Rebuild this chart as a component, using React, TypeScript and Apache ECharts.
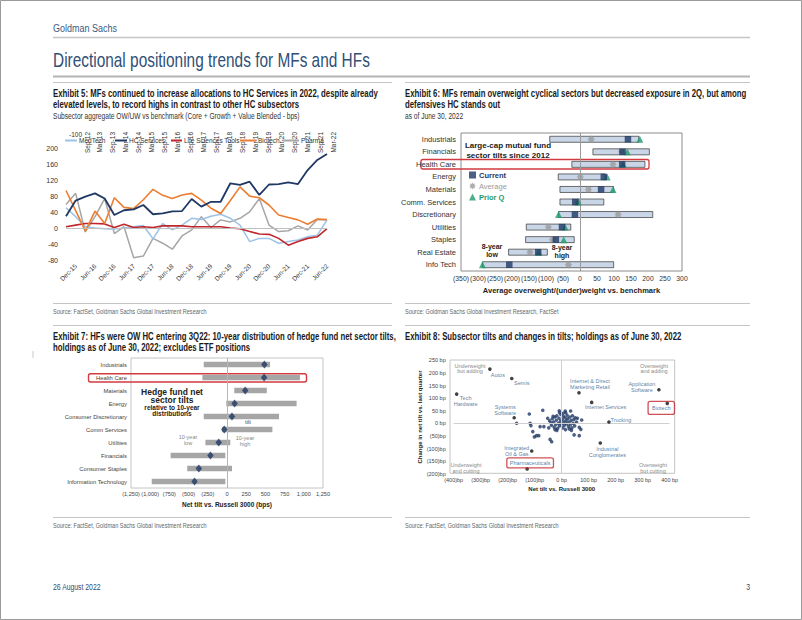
import React, { useEffect, useRef } from "react";
import * as echarts from "echarts";

// ---------- Exhibit 5 data ----------
const ex5Quarters = ["Sep-15","Dec-15","Mar-16","Jun-16","Sep-16","Dec-16","Mar-17","Jun-17","Sep-17","Dec-17","Mar-18","Jun-18","Sep-18","Dec-18","Mar-19","Jun-19","Sep-19","Dec-19","Mar-20","Jun-20","Sep-20","Dec-20","Mar-21","Jun-21","Sep-21","Dec-21","Mar-22","Jun-22"];
const ex5TopLabels = ["Sep-12","Mar-13","Sep-13","Mar-14","Sep-14","Mar-15","Sep-15","Mar-16","Sep-16","Mar-17","Sep-17","Mar-18","Sep-18","Mar-19","Sep-19","Mar-20","Sep-20","Mar-21","Sep-21","Mar-22"];
const medTech = [52, 30, 5, 2, 0, -1, 2, 5, 8, -25, 13, -3, 9, 26, 23, 31, 36, 26, 9, -32, -24, -24, -36, -32, -28, -20, -16, 22];
const hcServices = [31, 70, 80, 88, 75, 34, 46, 48, 59, 36, 38, 43, 44, 74, 55, 67, 67, 113, 109, 117, 84, 110, 111, 115, 111, 146, 171, 186];
const lifeSciTools = [5, 9, 13, 13, 12, 3, 11, 3, 5, 3, 7, 7, 7, 5, 5, 5, 5, 2, 0, -7, -13, -14, -24, -41, -32, -24, -20, 0];
const biotech = [95, 45, -6, 44, 13, 77, 53, 50, 72, 98, 83, 75, 84, 88, 71, 51, 38, 70, 104, 81, 77, 59, 34, 28, 22, 11, 24, 23];
const pharma = [60, 88, -8, 30, 75, -12, 5, -72, -68, -24, -36, -51, -18, -3, 30, 3, 22, 17, 26, 42, 75, 9, -7, -5, 7, -3, 23, 22];

// ---------- Exhibit 6 data ----------
const ex6Cats = ["Industrials","Financials","Health Care","Energy","Materials","Comm. Services","Discretionary","Utilities","Staples","Real Estate","Info Tech"];
const ex6Low = [-89, 38, -24, -64, -59, -59, -63, -158, -160, -210, -287];
const ex6High = [173, 204, 191, 74, 99, 70, 214, -27, -17, -96, 99];
const ex6Current = [141, 125, 124, 70, 62, -14, -15, -53, -71, -123, -208];
const ex6Average = [33, 122, 97, 1, 25, -7, 112, -93, -81, -147, -34];
const ex6Prior = [176, 139, 127, 80, 97, -5, -63, -44, -48, -121, -287];

// ---------- Exhibit 7 data ----------
const ex7Cats = ["Industrials","Health Care","Materials","Energy","Consumer Discretionary","Comm Services","Utilities","Financials","Consumer Staples","Information Technology"];
const ex7Low = [-303, -320, 95, -9, -303, -65, -281, -734, -518, -980];
const ex7High = [561, 950, 518, 906, 677, 591, 43, -22, 65, -22];
const ex7Current = [487, 483, 237, 99, 65, -35, -108, -216, -367, -423];

// ---------- Exhibit 8 data ----------
const ex8LabelNames = ["Tech\nHardware","Autos","Semis","Systems\nSoftware","Integrated\nOil & Gas","Pharmaceuticals","Internet & Direct\nMarketing Retail","Internet Services","Application\nSoftware","Biotech","Trucking","Industrial\nConglomerates"];
const ex8LabelX = [-389, -266, -185, -176, -111, -128, 64, 111, 360, 391, 175, 143];
const ex8LabelY = [116, 215, 178, 22, -110, -181, 121, 83, 133, 79, 5, -78];
const ex8Other = [
  [-167, 0], [-120, 37], [-70, 52], [-9, 50], [13, 49], [33, 49], [-117, 0], [-114, -9], [-80, -13], [-66, -13],
  [-107, -33], [-93, -49], [-101, -54], [-85, -49], [-43, -64], [-37, -73], [46, -46], [65, -49], [71, -24], [65, -16],
  [74, 13], [58, 20], [-45, 10], [-40, 2], [-38, -8], [-35, 18], [-30, 5], [-28, -15], [-25, 25], [-22, -5],
  [-20, 12], [-18, 30], [-15, -20], [-12, 0], [-10, 20], [-8, -10], [-5, 8], [-3, 35], [0, -3], [2, 15],
  [4, -18], [6, 28], [8, 5], [10, -8], [12, 22], [14, -25], [16, 10], [18, -2], [20, 32], [22, 18],
  [25, -12], [27, 5], [30, 25], [32, -5], [35, 12], [38, -18], [40, 30], [42, 0], [45, 15], [48, -10],
  [-32, 28], [-48, -18], [-52, 20], [5, 40], [15, 42], [-18, -28], [28, -22], [50, 22], [-8, 42], [-25, -25],
  [36, -28], [55, 5]
];

const FONT = "'Liberation Sans', Arial, sans-serif";
const NAVY = "#1f3864";
const STAR = "path://M10,0L5.54,2.3L7.07,7.07L2.3,5.54L0,10L-2.3,5.54L-7.07,7.07L-5.54,2.3L-10,0L-5.54,-2.3L-7.07,-7.07L-2.3,-5.54L0,-10L2.3,-5.54L7.07,-7.07L5.54,-2.3Z";

let measureCtx: CanvasRenderingContext2D | null = null;
function measure(text: string, font: string) {
  if (!measureCtx && typeof document !== "undefined") {
    measureCtx = document.createElement("canvas").getContext("2d");
  }
  if (!measureCtx) return 0;
  measureCtx.font = font;
  return measureCtx.measureText(text).width;
}

// condensed header styles: [size, bold, colour, reference text, reference width]
const headStyles: Record<string, [number, boolean, string, string, number]> = {
  gs: [11.5, false, "#3b5a80", "Goldman Sachs", 64],
  title: [20, false, "#2f5077", "Directional positioning trends for MFs and HFs", 317],
  ex: [10, true, "#1a1a1a", "Exhibit 5: MFs continued to increase allocations to HC Services in 2022, despite already", 325],
  sub: [9, false, "#333", "Subsector aggregate OW/UW vs benchmark (Core + Growth + Value Blended - bps)", 247],
  src: [7.5, false, "#666", "Source: FactSet, Goldman Sachs Global Investment Research", 154],
  foot: [9, false, "#2f4b6e", "26 August 2022", 48],
};
const scaleCache: Record<string, number> = {};
function headScale(k: string) {
  if (scaleCache[k]) return scaleCache[k];
  const [size, bold, , ref, w] = headStyles[k];
  const m = measure(ref, `${bold ? "bold " : ""}${size}px ${FONT}`);
  const s = m > 0 ? w / m : 0.8;
  scaleCache[k] = s;
  return s;
}
function head(x: number, y: number, text: string, k: string, align = "left") {
  const [size, bold, color] = headStyles[k];
  return {
    type: "text",
    x,
    y,
    scaleX: headScale(k),
    silent: true,
    style: {
      text,
      fill: color,
      font: `${bold ? "bold " : ""}${size}px ${FONT}`,
      textAlign: align,
      textVerticalAlign: "middle",
    },
  };
}

function txt(x: number, y: number, text: string, o: any = {}) {
  return {
    type: "text",
    x,
    y,
    silent: true,
    style: {
      text,
      fill: o.fill || "#222",
      font: `${o.bold ? "bold " : ""}${o.size || 8}px ${FONT}`,
      textAlign: o.align || "left",
      textVerticalAlign: "middle",
      lineHeight: o.lh,
    },
  };
}
function hline(x1: number, x2: number, y: number, color = "#c4c4c4", w = 1) {
  return { type: "line", silent: true, shape: { x1, y1: y, x2, y2: y }, style: { stroke: color, lineWidth: w } };
}
function box(x: number, y: number, w: number, h: number, color: string, lw = 1.2, r = 2) {
  return { type: "rect", silent: true, shape: { x, y, width: w, height: h, r }, style: { fill: "none", stroke: color, lineWidth: lw } };
}

function rangeRender(h: number, fill: string, stroke: string | null) {
  return (params: any, api: any) => {
    const lo = api.coord([api.value(0), api.value(2)]);
    const hi = api.coord([api.value(1), api.value(2)]);
    return {
      type: "rect",
      shape: { x: lo[0], y: lo[1] - h / 2, width: hi[0] - lo[0], height: h },
      style: { fill, stroke: stroke || "none", lineWidth: 0.7 },
    };
  };
}

const parenFmt = (v: number) => (v < 0 ? `(${(-v).toLocaleString("en-US")})` : `${v.toLocaleString("en-US")}`);
const bpFmt = (v: number) => (v < 0 ? `(${-v})bp` : `${v} bp`);
const zeroX = (color: string) => ({
  silent: true, symbol: "none", label: { show: false },
  lineStyle: { color, width: 1, type: "solid" }, data: [{ xAxis: 0 }],
});

export default function App() {
  const ref = useRef<HTMLDivElement>(null);
  useEffect(() => {
    if (!ref.current) return;
    const chart = echarts.init(ref.current, null, { renderer: "svg" });

    const ex5Series = [
      { name: "Pharma", data: pharma, color: "#a6a6a6", w: 1.5 },
      { name: "MedTech", data: medTech, color: "#9dc3e6", w: 1.5 },
      { name: "Life Sciences Tools", data: lifeSciTools, color: "#c0272d", w: 1.6 },
      { name: "Biotech", data: biotech, color: "#ed7d31", w: 1.6 },
      { name: "HC Services", data: hcServices, color: NAVY, w: 1.8 },
    ].map((s, i) => ({
      type: "line",
      name: s.name,
      xAxisIndex: 0,
      yAxisIndex: 0,
      data: s.data,
      symbol: "none",
      color: s.color,
      lineStyle: { color: s.color, width: s.w },
      z: 3,
      markLine:
        i === 0
          ? { silent: true, symbol: "none", label: { show: false }, lineStyle: { color: "#bfbfbf", width: 1, type: "solid" }, data: [{ yAxis: 0 }] }
          : undefined,
    }));

    const ex5LegendPos: [string, number, number][] = [
      ["MedTech", 65, 12],
      ["HC Services", 115, 12],
      ["Life Sciences Tools", 171, 11],
      ["Biotech", 240, 16],
      ["Pharma", 283, 16],
    ];
    const legends: any[] = ex5LegendPos.map(([name, left, w]) => ({
      data: [name],
      left,
      top: 137,
      icon: "rect",
      itemWidth: w,
      itemHeight: 2,
      padding: 0,
      itemGap: 0,
      selectedMode: false,
      textStyle: { fontSize: 6.5, color: "#333", fontFamily: FONT, padding: [0, 0, 0, -3] },
    }));
    legends.push({
      data: [
        { name: "Current", textStyle: { color: NAVY, fontWeight: "bold" } },
        { name: "Average", textStyle: { color: "#9a9a9a" } },
        { name: "Prior Q", textStyle: { color: "#1e9c6c", fontWeight: "bold" } },
      ],
      left: 469,
      top: 171,
      orient: "vertical",
      itemWidth: 7,
      itemHeight: 7,
      itemGap: 3,
      padding: 0,
      selectedMode: false,
      textStyle: { fontSize: 7.5, fontFamily: FONT, padding: [0, 0, 0, -2] },
    });

    const ex8Labels: any[] = [
      { off: [9, 7] },
      { off: [8, 6] },
      { off: [10, 5] },
      { off: [-9, -8] },
      { off: [-15, 0] },
      { off: [3, -6], boxed: true },
      { off: [11, -9] },
      { off: [14, 5] },
      { off: [-17, -3] },
      { off: [-6, 4.5], boxed: true, pad: [6, 4, 1, 4] },
      { off: [12, -2] },
      { off: [7, 9] },
    ];

    const option: any = {
      animation: false,
      backgroundColor: "#fff",
      textStyle: { fontFamily: FONT },
      legend: legends,
      grid: [
        { left: 66, top: 148.3, width: 261, height: 112.6 },
        { left: 87, top: 120, width: 246, height: 10 },
        { left: 461, top: 133, width: 221, height: 138, show: true, borderColor: "#8c8c8c", borderWidth: 1 },
        { left: 131, top: 358, width: 192, height: 130, show: true, borderColor: "#c4c4c4", borderWidth: 1 },
        { left: 453.7, top: 360.3, width: 216, height: 113.4 },
      ],
      xAxis: [
        {
          gridIndex: 0, type: "category", data: ex5Quarters, boundaryGap: false,
          axisLine: { show: false, onZero: false }, axisTick: { show: false },
          axisLabel: { interval: (i: number) => i % 2 === 1, rotate: 45, fontSize: 6.5, color: "#333", margin: 4 },
        },
        {
          gridIndex: 1, type: "category", data: ex5TopLabels, boundaryGap: false,
          axisLine: { show: false }, axisTick: { show: false },
          axisLabel: { interval: 0, rotate: 90, fontSize: 6.5, color: "#333", margin: 2 },
        },
        {
          gridIndex: 2, type: "value", min: -350, max: 300, interval: 50,
          axisLine: { show: false }, axisTick: { show: false }, splitLine: { show: false },
          axisLabel: { formatter: parenFmt, fontSize: 6.8, color: "#333", margin: 4 },
          name: "Average overweight/(under)weight vs. benchmark", nameLocation: "middle", nameGap: 15,
          nameTextStyle: { fontSize: 7.5, fontWeight: "bold", color: "#222" },
        },
        {
          gridIndex: 3, type: "value", min: -1250, max: 1250, interval: 250,
          axisLine: { show: false }, axisTick: { show: false }, splitLine: { show: false },
          axisLabel: { formatter: parenFmt, fontSize: 5.6, color: "#444", margin: 3 },
          name: "Net tilt vs. Russell 3000 (bps)", nameLocation: "middle", nameGap: 13,
          nameTextStyle: { fontSize: 6.5, fontWeight: "bold", color: "#222" },
        },
        {
          gridIndex: 4, type: "value", min: -400, max: 400, interval: 100,
          axisLine: { show: false }, axisTick: { show: false }, splitLine: { show: false },
          axisLabel: { formatter: bpFmt, fontSize: 5.5, color: "#444", margin: 3 },
          name: "Net tilt vs. Russell 3000", nameLocation: "middle", nameGap: 12,
          nameTextStyle: { fontSize: 6, fontWeight: "bold", color: "#222" },
        },
      ],
      yAxis: [
        {
          gridIndex: 0, type: "value", min: -80, max: 200, interval: 40,
          axisLine: { show: false }, axisTick: { show: false }, splitLine: { show: false },
          axisLabel: { fontSize: 7, color: "#333", margin: 8 },
        },
        { gridIndex: 1, type: "value", min: 0, max: 1, show: false },
        {
          gridIndex: 2, type: "category", data: ex6Cats, inverse: true,
          axisLine: { show: false }, axisTick: { show: false },
          axisLabel: { fontSize: 7.5, color: "#333", margin: 5 },
        },
        {
          gridIndex: 3, type: "category", data: ex7Cats, inverse: true,
          axisLine: { show: false }, axisTick: { show: false },
          axisLabel: { fontSize: 5.8, color: "#444", margin: 4 },
        },
        {
          gridIndex: 4, type: "value", min: -200, max: 250, interval: 50,
          axisLine: { show: false }, axisTick: { show: false }, splitLine: { show: false },
          axisLabel: { formatter: bpFmt, fontSize: 5.5, color: "#444", margin: 8 },
          name: "Change in net tilt vs. last quarter", nameLocation: "middle", nameGap: 30, nameRotate: 90,
          nameTextStyle: { fontSize: 6, fontWeight: "bold", color: "#222" },
        },
      ],
      series: [
        ...ex5Series,
        { type: "line", name: "topAxis", xAxisIndex: 1, yAxisIndex: 1, data: [], symbol: "none", silent: true },
        // Exhibit 6
        {
          type: "custom", name: "Range6", xAxisIndex: 2, yAxisIndex: 2,
          renderItem: rangeRender(6, "#c9d6e8", "#333"),
          encode: { x: [0, 1], y: 2 },
          data: ex6Cats.map((_, i) => [ex6Low[i], ex6High[i], i]),
          z: 2,
        },
        {
          type: "scatter", name: "Average", xAxisIndex: 2, yAxisIndex: 2, symbol: STAR, symbolSize: 8,
          itemStyle: { color: "#9a9a9a" }, data: ex6Average.map((v, i) => [v, i]), z: 4,
          markLine: zeroX("#9a9a9a"),
        },
        {
          type: "scatter", name: "Prior Q", xAxisIndex: 2, yAxisIndex: 2, symbol: "triangle", symbolSize: 7,
          itemStyle: { color: "#1e9c6c" }, data: ex6Prior.map((v, i) => [v, i]), z: 5,
        },
        {
          type: "scatter", name: "Current", xAxisIndex: 2, yAxisIndex: 2, symbol: "rect", symbolSize: 6.5,
          itemStyle: { color: NAVY }, data: ex6Current.map((v, i) => [v, i]), z: 6,
        },
        // Exhibit 7
        {
          type: "custom", name: "Range7", xAxisIndex: 3, yAxisIndex: 3,
          renderItem: rangeRender(5.5, "#a6a6a6", null),
          encode: { x: [0, 1], y: 2 },
          data: ex7Cats.map((_, i) => [ex7Low[i], ex7High[i], i]),
          z: 2,
        },
        {
          type: "scatter", name: "Current tilt", xAxisIndex: 3, yAxisIndex: 3, symbol: "diamond", symbolSize: [6.5, 8],
          itemStyle: { color: NAVY }, data: ex7Current.map((v, i) => [v, i]), z: 5,
          markLine: zeroX("#b5b5b5"),
        },
        // Exhibit 8
        {
          type: "scatter", name: "Subsectors", xAxisIndex: 4, yAxisIndex: 4, symbolSize: 3.6,
          itemStyle: { color: NAVY }, data: ex8Other, z: 4,
          markLine: {
            silent: true, symbol: "none", label: { show: false },
            lineStyle: { color: "#cfcfcf", width: 1, type: "solid" },
            data: [{ xAxis: 0 }, { yAxis: 0 }],
          },
        },
        {
          type: "scatter", name: "Labelled", xAxisIndex: 4, yAxisIndex: 4, symbolSize: 3.6,
          itemStyle: { color: "#111" }, z: 5,
          data: ex8LabelNames.map((n, i) => ({
            name: n,
            value: [ex8LabelX[i], ex8LabelY[i]],
            label: {
              show: true,
              position: "inside",
              offset: ex8Labels[i].off,
              formatter: n,
              fontSize: 5.5,
              lineHeight: 6,
              color: "#2b5c8a",
              align: "center",
              verticalAlign: "middle",
              ...(ex8Labels[i].boxed
                ? { borderColor: "#c0272d", borderWidth: 1.3, borderRadius: 2, padding: ex8Labels[i].pad || [2, 3] }
                : {}),
            },
          })),
        },
      ],
      graphic: [
        { type: "rect", silent: true, shape: { x: 0.5, y: 0.5, width: 801, height: 619 }, style: { fill: "none", stroke: "#9a9a9a", lineWidth: 1 } },
        head(53, 28, "Goldman Sachs", "gs"),
        hline(53, 750, 37.5, "#c4c4c4", 1.5),
        head(53, 60, "Directional positioning trends for MFs and HFs", "title"),
        hline(53, 750, 76.5, "#b4b4b4", 2),
        hline(53, 392, 82.5),
        hline(405, 750, 82.5),
        head(53, 93.5, "Exhibit 5: MFs continued to increase allocations to HC Services in 2022, despite already", "ex"),
        head(53, 105, "elevated levels, to record highs in contrast to other HC subsectors", "ex"),
        head(53, 116.5, "Subsector aggregate OW/UW vs benchmark (Core + Growth + Value Blended - bps)", "sub"),
        head(405, 93.5, "Exhibit 6: MFs remain overweight cyclical sectors but decreased exposure in 2Q, but among", "ex"),
        head(405, 105, "defensives HC stands out", "ex"),
        head(405, 116.5, "as of June 30, 2022", "sub"),
        txt(69, 134, "-100", { size: 6.5, fill: "#333" }),
        // Exhibit 6 annotations
        txt(508, 145, "Large-cap mutual fund", { size: 8, bold: true, align: "center" }),
        txt(508, 155, "sector tilts since 2012", { size: 8, bold: true, align: "center" }),
        txt(492, 250, "8-year\nlow", { size: 7, bold: true, align: "center", lh: 8 }),
        txt(562, 251, "8-year\nhigh", { size: 7, bold: true, align: "center", lh: 8 }),
        box(421, 159.5, 228, 9.5, "#d23a3f", 1.3, 2),
        // sources top
        hline(53, 392, 303.5), hline(405, 750, 303.5),
        head(53, 311, "Source: FactSet, Goldman Sachs Global Investment Research", "src"),
        head(405, 311, "Source: Goldman Sachs Global Investment Research, FactSet", "src"),
        hline(53, 392, 325.5), hline(405, 750, 325.5),
        head(53, 336.5, "Exhibit 7: HFs were OW HC entering 3Q22: 10-year distribution of hedge fund net sector tilts,", "ex"),
        head(53, 348, "holdings as of June 30, 2022; excludes ETF positions", "ex"),
        head(405, 336.5, "Exhibit 8: Subsector tilts and changes in tilts; holdings as of June 30, 2022", "ex"),
        // Exhibit 7 annotations
        txt(172, 391.5, "Hedge fund net", { size: 8.5, bold: true, align: "center" }),
        txt(172, 400, "sector tilts", { size: 8.5, bold: true, align: "center" }),
        txt(172, 407, "relative to 10-year", { size: 6.5, bold: true, align: "center" }),
        txt(172, 413.5, "distributions", { size: 6.5, bold: true, align: "center" }),
        txt(188, 440, "10-year\nlow", { size: 5.5, align: "center", fill: "#888", lh: 5.5 }),
        txt(248, 418.5, "Current\ntilt", { size: 5.8, align: "center", fill: "#34506f", lh: 6 }),
        txt(245, 441, "10-year\nhigh", { size: 5.5, align: "center", fill: "#888", lh: 5.5 }),
        box(88.5, 373.8, 218, 8.2, "#d23a3f", 1.4, 2),
        // Exhibit 8 frame & corner labels
        { type: "rect", silent: true, z: 0, shape: { x: 450, y: 360, width: 224.7, height: 113.3 }, style: { fill: "none", stroke: "#c4c4c4", lineWidth: 1 } },
        txt(470, 368.3, "Underweight\nbut adding", { size: 5.5, align: "center", fill: "#8a8a8a", lh: 5.5 }),
        txt(466, 467.8, "Underweight\nand cutting", { size: 5.5, align: "center", fill: "#8a8a8a", lh: 5.5 }),
        txt(654, 368.3, "Overweight\nand adding", { size: 5.5, align: "center", fill: "#8a8a8a", lh: 5.5 }),
        txt(653, 467.8, "Overweight\nbut cutting", { size: 5.5, align: "center", fill: "#8a8a8a", lh: 5.5 }),
        // bottom sources & footer
        hline(53, 392, 517.5), hline(405, 750, 517.5),
        head(53, 525.5, "Source: FactSet, Goldman Sachs Global Investment Research", "src"),
        head(405, 525.5, "Source: FactSet, Goldman Sachs Global Investment Research", "src"),
        head(53, 587, "26 August 2022", "foot"),
        head(750, 587, "3", "foot", "right"),
        { type: "line", silent: true, shape: { x1: 33, y1: 351, x2: 33, y2: 358 }, style: { stroke: "#c8c8c8", lineWidth: 1 } },
      ],
    };

    chart.setOption(option);
    return () => chart.dispose();
  }, []);

  return (
    <div
      ref={ref}
      style={{ position: "fixed", left: 0, top: 0, width: 802, height: 620, background: "#fff" }}
    />
  );
}
